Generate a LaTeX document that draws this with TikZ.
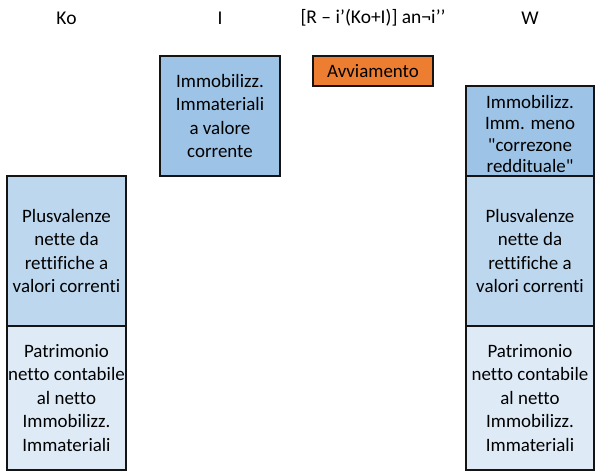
\documentclass[tikz,border=0pt]{standalone}
\usepackage{fontspec}
\setmainfont{Carlito}[Ligatures={TeXOff,NoCommon}]
\usepackage{tikz}
\usetikzlibrary{positioning}
\definecolor{immblue}{HTML}{9DC3E6}
\definecolor{plusblue}{HTML}{BDD7EE}
\definecolor{patrblue}{HTML}{DEEBF7}
\definecolor{avvorange}{HTML}{ED7D31}
\definecolor{mydark}{RGB}{20,20,20}
\tikzset{
  block/.style={rectangle, draw=mydark, line width=0.8pt, align=center,
    inner sep=0pt, font=\fontsize{14.2}{17.6}\selectfont},
  immblock/.style={block, fill=immblue},
  plusblock/.style={block, fill=plusblue},
  patrblock/.style={block, fill=patrblue},
  avvblock/.style={block, fill=avvorange},
  header/.style={font=\fontsize{14.6}{17}\selectfont}
}
\begin{document}
\begin{tikzpicture}[x=0.75pt, y=-0.75pt]
  \useasboundingbox (0,0) rectangle (595,471);
  % Column headers
  \node[header] (hko) at (66.5,18) {Ko};
  \node[header] (hi) at (220,18) {I};
  \node[header] (hav) at (373,18) {[R – i’(Ko+I)] an¬i’’};
  \node[header] (hw) at (530,18) {W};

  % Ko column
  \node[plusblock, minimum width=89.25pt, minimum height=112.5pt] (koplus) at (66.5,251)
    {Plusvalenze\\nette da\\rettifiche a\\valori correnti};
  \node[patrblock, minimum width=89.25pt, minimum height=108pt] (kopatr) at (66.5,398)
    {Patrimonio\\netto contabile\\al netto\\Immobilizz.\\Immateriali};

  % I column
  \node[immblock, minimum width=90pt, minimum height=90pt] (iimm) at (220,116)
    {Immobilizz.\\Immateriali\\a valore\\corrente};

  % Avviamento
  \node[avvblock, minimum width=90pt, minimum height=22.5pt] (avv) at (373,71) {Avviamento};

  % W column
  \node[immblock, minimum width=96pt, minimum height=67.5pt] (wimm) at (530,131) {};
  \node[font=\fontsize{14.2}{15.8}\selectfont, align=center, inner sep=0pt] (wimmtxt)
    at (530,134) {Immobilizz.\\Imm. meno\\"correzone\\reddituale"};
  \node[plusblock, minimum width=96pt, minimum height=112.5pt] (wplus) at (530,251)
    {Plusvalenze\\nette da\\rettifiche a\\valori correnti};
  \node[patrblock, minimum width=96pt, minimum height=108pt] (wpatr) at (530,398)
    {Patrimonio\\netto contabile\\al netto\\Immobilizz.\\Immateriali};
\end{tikzpicture}
\end{document}
